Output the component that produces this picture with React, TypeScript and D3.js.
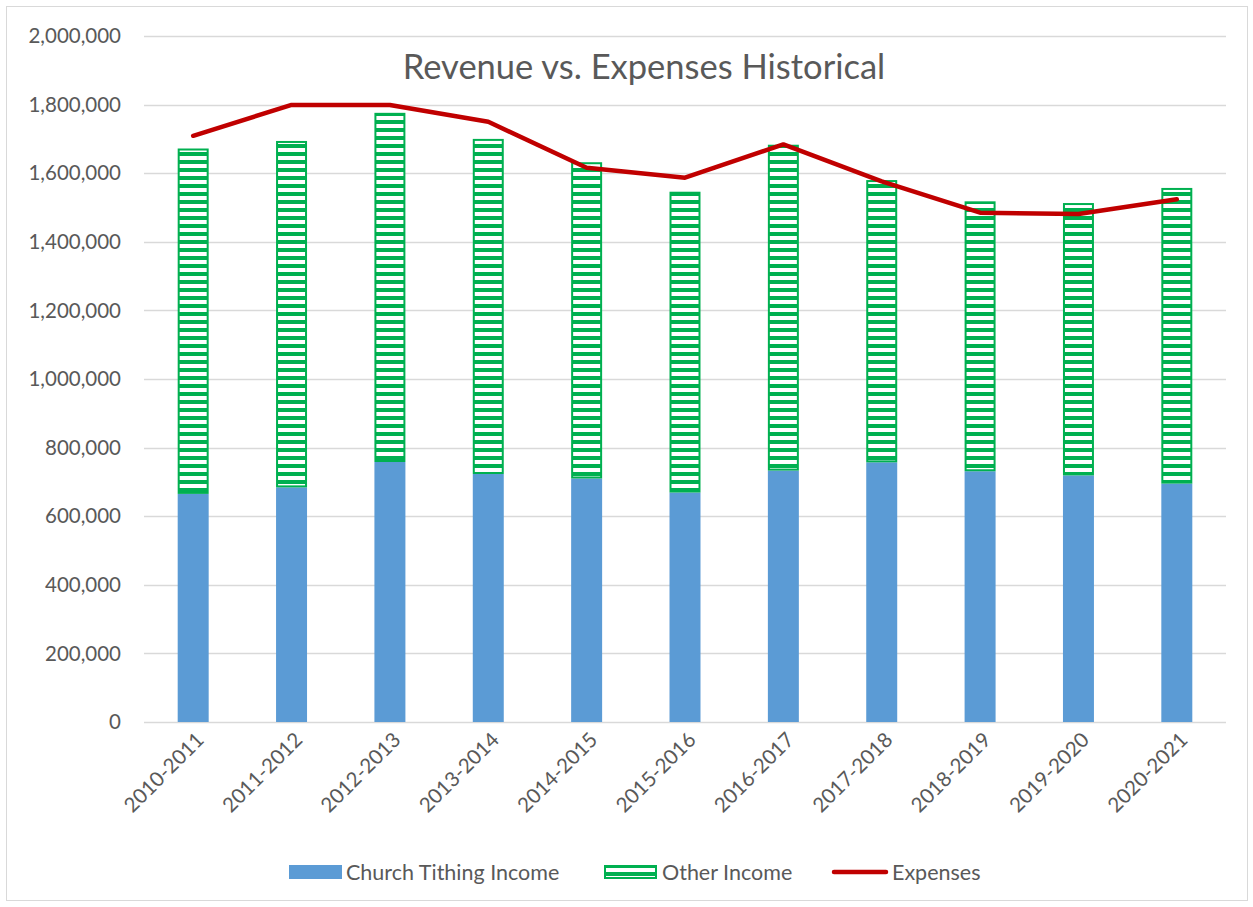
import React from "react";
import * as d3 from "d3";

const categories = ["2010-2011","2011-2012","2012-2013","2013-2014","2014-2015","2015-2016","2016-2017","2017-2018","2018-2019","2019-2020","2020-2021"];
const tithing = [665000, 684000, 758000, 723000, 710000, 669000, 733000, 757000, 731000, 719000, 695000];
const otherIncome = [1007000, 1010000, 1018000, 977000, 922000, 877000, 950000, 823000, 787000, 794000, 862000];
const expenses = [1709000, 1799000, 1799000, 1750000, 1616000, 1587000, 1684000, 1576000, 1485000, 1481000, 1524000];
const yTicks = [0, 200000, 400000, 600000, 800000, 1000000, 1200000, 1400000, 1600000, 1800000, 2000000];

const W = 1253, H = 907;
const plot = { left: 144, right: 1226, top: 36, bottom: 722 };
const font = "Lato, 'Open Sans', sans-serif";
const textColor = "#595959";

export default function App() {
  const x = d3.scaleBand<string>().domain(categories).range([plot.left, plot.right]).paddingInner(0.685).paddingOuter(0.3425);
  const y = d3.scaleLinear().domain([0, 2000000]).range([plot.bottom, plot.top]);
  const fmt = d3.format(",");
  const bw = x.bandwidth();
  const cx = (c: string) => (x(c) as number) + bw / 2;
  const line = d3.line<number>().x((_, i) => cx(categories[i])).y(d => y(d));

  return (
    <svg width={W} height={H} style={{ position: "absolute", left: 0, top: 0 }}>
      <defs>
        <pattern id="hstripes" patternUnits="userSpaceOnUse" width={8} height={8} y={0}>
          <rect x={0} y={0} width={8} height={8} fill="#ffffff" />
          <rect x={0} y={0} width={8} height={4} fill="#00b050" />
        </pattern>
      </defs>
      <rect x={0} y={0} width={W} height={H} fill="#fff" />
      <rect x={6.5} y={6.5} width={1241} height={894} fill="#fff" stroke="#d9d9d9" strokeWidth={1} />
      {yTicks.map(t => (
        <g key={t}>
          <line x1={plot.left} x2={plot.right} y1={Math.round(y(t)) + 0.5} y2={Math.round(y(t)) + 0.5} stroke="#d9d9d9" strokeWidth={1.3} />
          <text x={121} y={y(t)} dy="0.35em" textAnchor="end" fontFamily={font} fontSize={20.5} fill={textColor}>{fmt(t)}</text>
        </g>
      ))}
      {categories.map((c, i) => (
        <g key={c}>
          <rect x={x(c)} y={y(tithing[i])} width={bw} height={y(0) - y(tithing[i])} fill="#5b9bd5" />
          <rect x={(x(c) as number) + 1} y={y(tithing[i] + otherIncome[i]) + 1} width={bw - 2} height={y(tithing[i]) - y(tithing[i] + otherIncome[i]) - 2} fill="url(#hstripes)" stroke="#00b050" strokeWidth={2} />
        </g>
      ))}
      <path d={line(expenses) || ""} fill="none" stroke="#c00000" strokeWidth={4.5} strokeLinecap="round" strokeLinejoin="round" />
      {categories.map(c => (
        <text key={c} transform={`translate(${cx(c) + 7},${plot.bottom + 14}) rotate(-45)`} textAnchor="end" dy="0.35em" fontFamily={font} fontSize={20.5} fill={textColor}>{c}</text>
      ))}
      <text x={644} y={67} textAnchor="middle" dy="0.35em" fontFamily={font} fontSize={34.5} fill={textColor}>Revenue vs. Expenses Historical</text>
      <g fontFamily={font} fontSize={21.5} fill={textColor}>
        <rect x={289} y={865} width={53} height={14} fill="#5b9bd5" />
        <text x={346} y={872} dy="0.35em">Church Tithing Income</text>
        <rect x={605} y={866} width={51} height={12} fill="url(#hstripes)" stroke="#00b050" strokeWidth={2} />
        <text x={662} y={872} dy="0.35em">Other Income</text>
        <line x1={834} x2={886} y1={872} y2={872} stroke="#c00000" strokeWidth={4.5} strokeLinecap="round" />
        <text x={892} y={872} dy="0.35em">Expenses</text>
      </g>
    </svg>
  );
}
